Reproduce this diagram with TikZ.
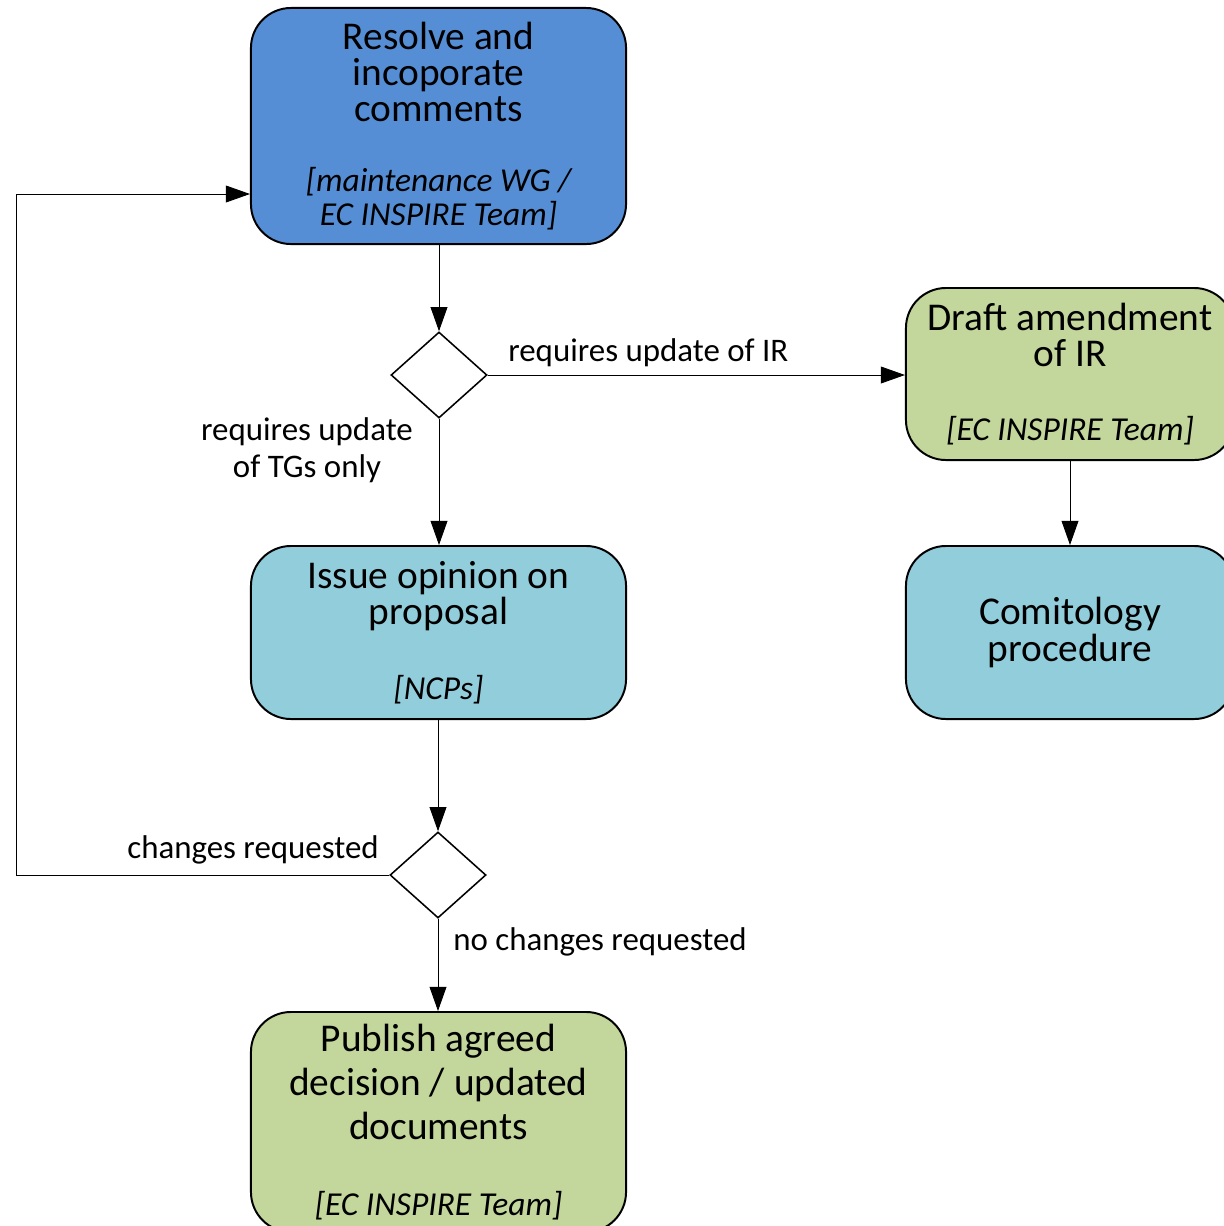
\documentclass[tikz,border=0pt]{standalone}
\usepackage{fontspec}
\setmainfont{Carlito}
\definecolor{resblue}{RGB}{85, 142, 213}
\definecolor{stepgreen}{RGB}{195, 214, 155}
\definecolor{steplight}{RGB}{146, 205, 220}
\usepackage{tikz}
\usetikzlibrary{shapes.geometric, arrows.meta, positioning, calc}
\newcommand{\rolefont}{\fontsize{23.8}{24}\selectfont\itshape}
\tikzset{
  task/.style={draw, line width=1.4pt, rounded corners=1cm, align=center, inner sep=0pt, font=\fontsize{28}{25.6}\selectfont},
  decision/.style={draw, diamond, line width=1.1pt, inner sep=0pt, minimum width=2.4cm, minimum height=2.15cm},
  conn/.style={-{Triangle[length=0.6cm, width=0.42cm]}, line width=0.6pt},
  lbl/.style={inner sep=0pt, font=\fontsize{23.4}{23.4}\selectfont}
}

\begin{document}
\begin{tikzpicture}[x=0.025cm, y=-0.025cm]
  \useasboundingbox (0, 0) rectangle (1224, 1226);

  % Steps
  \node[task, fill=resblue, minimum width=9.375cm, minimum height=5.9cm] (resolve) at (438.5, 126) {Resolve and\\incoporate\\comments\\[24.7pt]\rolefont [maintenance WG /\\[-1.5pt]\rolefont EC INSPIRE Team]};
  \node[task, fill=stepgreen, minimum width=8.2cm, minimum height=4.3cm] (draft) at (1070, 374) {Draft amendment\\of IR\\[27.6pt]\rolefont [EC INSPIRE Team]};
  \node[task, fill=steplight, minimum width=9.375cm, minimum height=4.325cm] (issue) at (438.5, 632.5) {Issue opinion on\\proposal\\[27.6pt]\rolefont [NCPs]};
  \node[task, fill=steplight, minimum width=8.2cm, minimum height=4.325cm, font=\fontsize{28}{26.2}\selectfont] (comit) at (1070, 632.5) {Comitology\\procedure};
  \node[task, fill=stepgreen, minimum width=9.375cm, minimum height=5.5cm, font=\fontsize{28}{31.3}\selectfont] (publish) at (438.5, 1122) {Publish agreed\\decision / updated\\documents\\[22.7pt]\rolefont [EC INSPIRE Team]};

  % Decisions
  \node[decision] (dec1) at (439, 375) {};
  \node[decision] (dec2) at (438, 875) {};

  % Flow
  \draw[conn] (resolve.south -| dec1) -- (dec1.north);
  \draw[conn] (dec1.east) -- (dec1.east -| draft.west);
  \draw[conn] (dec1.south) -- (issue.north -| dec1);
  \draw[conn] (draft) -- (comit);
  \draw[conn] (issue.south -| dec2) -- (dec2.north);
  \draw[conn] (dec2.south) -- (publish.north -| dec2);

  % Loop back
  \coordinate (loop) at (16, 194);
  \draw[conn] (dec2.west) -| (loop) -- (loop -| resolve.west);

  % Labels
  \node[lbl, anchor=west] (lblir) at (508, 353) {requires update of IR};
  \node[lbl, align=center, font=\fontsize{23.4}{26.2}\selectfont] (lbltg) at (307, 450) {requires update\\of TGs only};
  \node[lbl] (lblch) at (253, 850) {changes requested};
  \node[lbl, anchor=west] (lblno) at (453, 942) {no changes requested};
\end{tikzpicture}
\end{document}
